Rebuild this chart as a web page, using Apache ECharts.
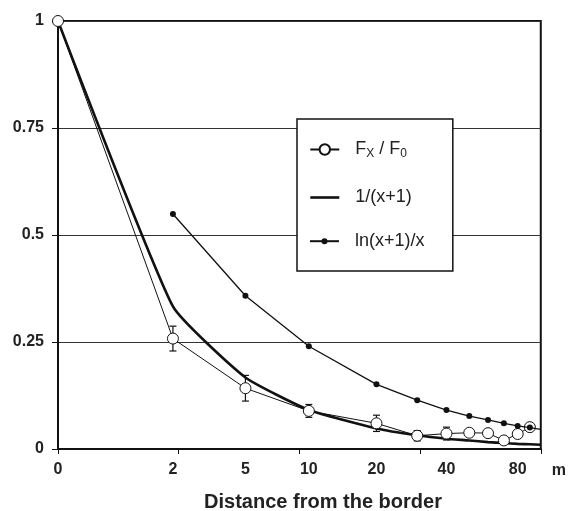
<!DOCTYPE html>
<html>
<head>
<meta charset="utf-8">
<script src="https://cdn.jsdelivr.net/npm/echarts@6/dist/echarts.min.js"></script>
<style>
html, body { margin: 0; padding: 0; background: #fff; }
#main { width: 569px; height: 511px; }
</style>
</head>
<body>
<div id="main"></div>
<script>
// measured points, distance in m
var distance = [0, 2, 5, 10, 20, 30, 40, 50, 60, 70, 80, 90];
var ratio = [1, 0.258, 0.142, 0.089, 0.060, 0.031, 0.036, 0.038, 0.037, 0.020, 0.035, 0.051];
var ratioErr = [0, 0.029, 0.030, 0.015, 0.019, 0.012, 0.015, 0.005, 0.005, 0.005, 0.005, 0.005];

// 1/(x+1) curve
var curveX = [0, 2, 5, 10, 20, 30, 40, 50, 60, 70, 80, 90, 100];
var inverse = [1, 0.333, 0.167, 0.091, 0.048, 0.032, 0.024, 0.020, 0.016, 0.014, 0.012, 0.011, 0.0099];

// ln(x+1)/x
var logX = [2, 5, 10, 20, 30, 40, 50, 60, 70, 80, 90, 100];
var logRatio = [0.549, 0.358, 0.240, 0.151, 0.114, 0.091, 0.077, 0.068, 0.060, 0.054, 0.050, 0.046];

var tickLabels = [0, 2, 5, 10, 20, 40, 80];

var FONT = '"Liberation Sans", Arial, sans-serif';

// axis is drawn in ln(x+1)
function u(d) { return Math.log(d + 1); }
var xMax = u(100);

var errData = [];
for (var i = 0; i < distance.length; i++) {
    if (ratioErr[i] > 0) {
        errData.push([u(distance[i]), ratio[i] - ratioErr[i], ratio[i] + ratioErr[i]]);
    }
}

var logData = [];
for (var i = 0; i < logX.length; i++) {
    if (logX[i] == 100) {
        logData.push({ value: [u(logX[i]), logRatio[i]], symbol: 'none' });
    } else {
        logData.push([u(logX[i]), logRatio[i]]);
    }
}

var legendText = {
    fontFamily: FONT,
    fontSize: 18,
    color: '#222',
    padding: [0, 0, 0, 11],
    rich: {
        t: { fontFamily: FONT, fontSize: 18, color: '#222', lineHeight: 20 },
        s: { fontFamily: FONT, fontSize: 12, color: '#222', lineHeight: 10, verticalAlign: 'bottom' }
    }
};

var myChart = echarts.init(document.getElementById('main'));

var option = {
    animation: false,
    grid: {
        left: 58, right: 27, top: 21, bottom: 62,
        show: true,
        borderColor: '#111',
        borderWidth: 2,
        backgroundColor: 'transparent'
    },
    legend: [
        {
            // box + first two entries
            orient: 'vertical',
            left: 297,
            top: 119,
            z: 4,
            selectedMode: false,
            itemWidth: 29,
            itemHeight: 13,
            itemGap: 29,
            padding: [21.5, 41, 64.5, 12],
            backgroundColor: '#fff',
            borderColor: '#111',
            borderWidth: 1.5,
            data: [
                'F',
                { name: '1/(x+1)', itemStyle: { opacity: 0 }, lineStyle: { width: 2.6 } }
            ],
            formatter: function (name) {
                if (name == 'F') {
                    return '{t|F}{s|X}{t| / F}{s|0}';
                }
                return name;
            },
            textStyle: legendText
        },
        {
            // small dot entry
            orient: 'vertical',
            left: 309,
            top: 232.2,
            z: 5,
            selectedMode: false,
            itemWidth: 29,
            itemHeight: 7.5,
            padding: 0,
            backgroundColor: 'transparent',
            borderWidth: 0,
            data: ['ln(x+1)/x'],
            textStyle: legendText
        }
    ],
    xAxis: {
        type: 'value',
        min: 0,
        max: xMax,
        interval: xMax / 4,
        name: 'm',
        nameLocation: 'end',
        nameGap: 11,
        nameTextStyle: {
            fontFamily: FONT, fontSize: 16, fontWeight: 'bold', color: '#222',
            verticalAlign: 'top', padding: [14, 0, 0, 0]
        },
        axisLine: { show: true, onZero: false, lineStyle: { color: '#111', width: 2 } },
        axisTick: { show: true, length: 5, lineStyle: { color: '#111', width: 1 } },
        splitLine: { show: false },
        axisLabel: {
            customValues: tickLabels.map(u),
            formatter: function (v) { return String(Math.round(Math.exp(v) - 1)); },
            fontFamily: FONT, fontSize: 16, fontWeight: 'bold', color: '#222',
            margin: 13
        }
    },
    yAxis: {
        type: 'value',
        min: 0,
        max: 1,
        interval: 0.25,
        axisLine: { show: true, lineStyle: { color: '#111', width: 2 } },
        axisTick: { show: true, length: 6, lineStyle: { color: '#111', width: 1 } },
        splitLine: { show: true, lineStyle: { color: '#333', width: 1 } },
        axisLabel: {
            formatter: function (v) { return String(v); },
            fontFamily: FONT, fontSize: 16, fontWeight: 'bold', color: '#222',
            margin: 14
        }
    },
    graphic: [{
        type: 'text',
        x: 323,
        y: 502,
        style: {
            text: 'Distance from the border',
            font: 'bold 20px ' + FONT,
            fill: '#222',
            align: 'center',
            verticalAlign: 'middle'
        }
    }],
    series: [
        {
            type: 'custom',
            name: 'err',
            z: 2,
            encode: { x: 0, y: [1, 2] },
            renderItem: function (params, api) {
                var x = api.value(0);
                var top = api.coord([x, api.value(2)]);
                var bot = api.coord([x, api.value(1)]);
                var w = 3.5;
                var st = { stroke: '#111', lineWidth: 1.2 };
                return {
                    type: 'group',
                    children: [
                        { type: 'line', shape: { x1: top[0], y1: top[1], x2: bot[0], y2: bot[1] }, style: st },
                        { type: 'line', shape: { x1: top[0] - w, y1: top[1], x2: top[0] + w, y2: top[1] }, style: st },
                        { type: 'line', shape: { x1: bot[0] - w, y1: bot[1], x2: bot[0] + w, y2: bot[1] }, style: st }
                    ]
                };
            },
            data: errData
        },
        {
            type: 'line',
            name: 'F',
            z: 3,
            symbol: 'circle',
            symbolSize: 11,
            showAllSymbol: true,
            itemStyle: { color: '#fff', borderColor: '#111', borderWidth: 1 },
            lineStyle: { color: '#111', width: 1 },
            emphasis: { disabled: true },
            data: distance.map(function (d, i) { return [u(d), ratio[i]]; })
        },
        {
            type: 'line',
            name: '1/(x+1)',
            z: 3,
            symbol: 'none',
            smooth: 0.15,
            itemStyle: { color: '#111' },
            lineStyle: { color: '#111', width: 2.6 },
            emphasis: { disabled: true },
            data: curveX.map(function (d, i) { return [u(d), inverse[i]]; })
        },
        {
            type: 'line',
            name: 'ln(x+1)/x',
            z: 4,
            symbol: 'circle',
            symbolSize: 6,
            showAllSymbol: true,
            itemStyle: { color: '#111' },
            lineStyle: { color: '#111', width: 1.3 },
            emphasis: { disabled: true },
            data: logData
        }
    ]
};

myChart.setOption(option);
</script>
</body>
</html>
